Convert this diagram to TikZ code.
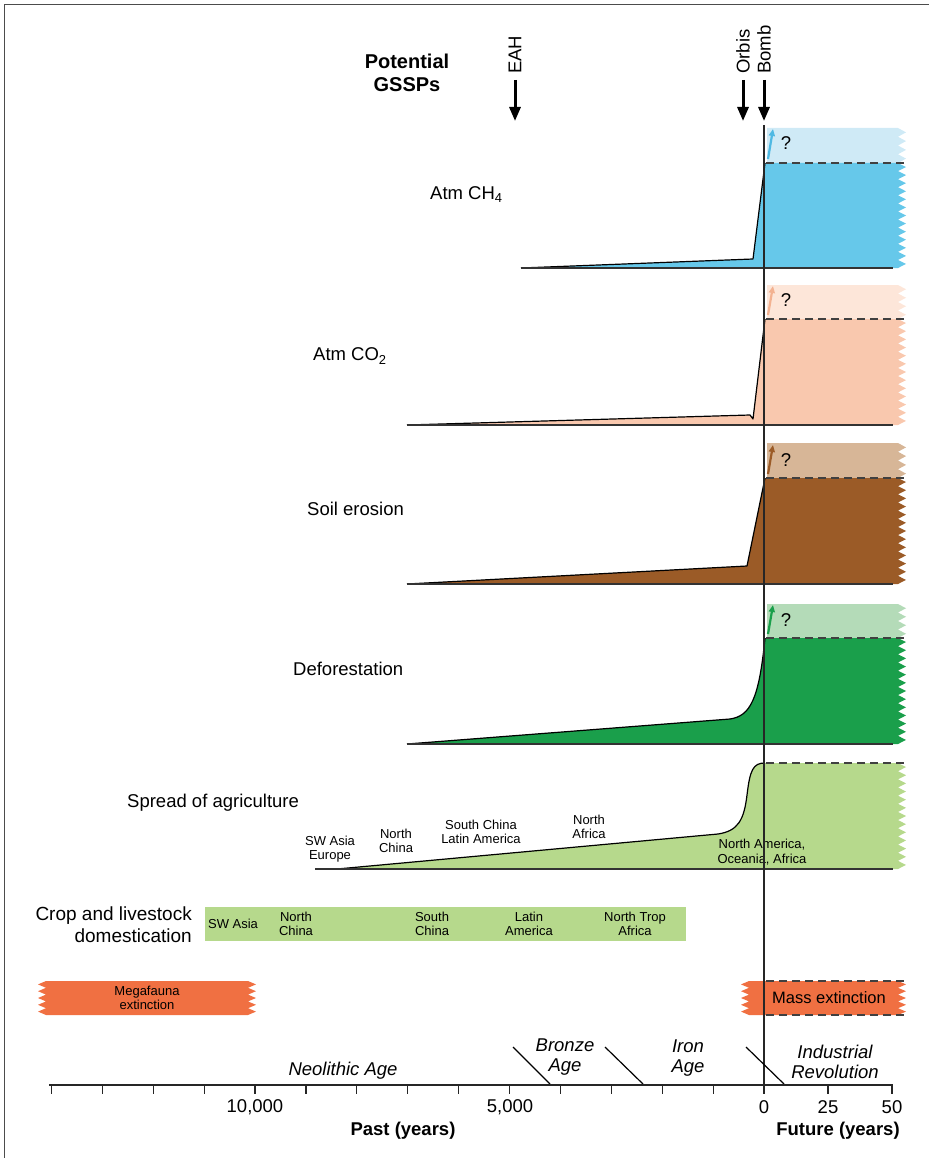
\documentclass[tikz,border=0pt]{standalone}
\usepackage{fontspec}
\setmainfont{Liberation Sans}
\usetikzlibrary{arrows.meta}
\definecolor{chmain}{HTML}{66C8EA}
\definecolor{chpale}{HTML}{CFEAF6}
\definecolor{charr}{HTML}{4FB9E3}
\definecolor{comain}{HTML}{F9C8AE}
\definecolor{copale}{HTML}{FDE6D9}
\definecolor{coarr}{HTML}{F3B291}
\definecolor{somain}{HTML}{9B5B27}
\definecolor{sopale}{HTML}{D7B697}
\definecolor{demain}{HTML}{1A9F4B}
\definecolor{depale}{HTML}{B4DBB8}
\definecolor{agmain}{HTML}{B6D98C}
\definecolor{exmain}{HTML}{F07042}
\tikzset{
  lbl/.style={font=\fontsize{18.5}{21}\selectfont, inner sep=0pt},
  small/.style={font=\fontsize{13}{14.5}\selectfont, inner sep=0pt, align=center},
  agelbl/.style={font=\fontsize{18.5}{20}\selectfont\itshape, inner sep=0pt, align=center},
  dashline/.style={draw=black!75, dash pattern=on 8pt off 5pt, line width=1.3pt},
  outline/.style={draw=black, line width=1.2pt, line join=round},
  gssp/.style={line width=3pt, -{Triangle[length=14pt,width=11pt]}},
  qarrow/.style={line width=2.2pt, -{Triangle[length=7pt,width=6pt]}},
  zzr/.style n args={4}{insert path={foreach \k in {1,...,#4} { -- ({#1+8},{#2+(\k-0.5)*(#3-#2)/#4}) -- (#1,{#2+\k*(#3-#2)/#4}) }}},
  zzl/.style n args={4}{insert path={foreach \k in {1,...,#4} { -- ({#1-8},{#3-(\k-0.5)*(#3-#2)/#4}) -- (#1,{#3-\k*(#3-#2)/#4}) }}},
}
\begin{document}
\begin{tikzpicture}[x=1pt,y=-1pt]
\useasboundingbox (0,0) rectangle (929,1158);
% frame
\draw[black!70, line width=1pt] (4,1158) -- (4,5) -- (929,5);

% ---------- GSSP markers ----------
\node[font=\fontsize{20}{23}\selectfont\bfseries, align=center, inner sep=0pt] (gssp) at (407,73) {Potential\\GSSPs};
\node[lbl, rotate=90, anchor=west] (eah) at (515,74) {EAH};
\node[lbl, rotate=90, anchor=west] (orbis) at (743,74) {Orbis};
\node[lbl, rotate=90, anchor=west] (bomb) at (764,74) {Bomb};
\coordinate (eahA) at (515,80); \coordinate (eahB) at (515,121);
\coordinate (orbA) at (743,80); \coordinate (orbB) at (743,121);
\coordinate (bomA) at (764,80); \coordinate (bomB) at (764,121);
\draw[gssp] (eahA) -- (eahB);
\draw[gssp] (orbA) -- (orbB);
\draw[gssp] (bomA) -- (bomB);

% ---------- CH4 ----------
\fill[chpale] (767,128) -- (898,128) [zzr={898}{128}{163}{4}] -- (767,163) -- cycle;
\fill[chmain] (521,268) -- (753,259) -- (765,163) -- (898,163) [zzr={898}{163}{268}{13}] -- cycle;
\draw[outline] (521,268) -- (753,259) -- (765,163);
\draw[black!80, line width=1.2pt] (521,268) -- (893,268);
\draw[dashline] (766,163) -- (905,163);
\draw[qarrow, charr] (768,159) -- (773,129);
\node[lbl] (q1) at (786,143) {?};
\node[lbl, anchor=west] (ch4) at (430,195) {Atm CH\textsubscript{4}};

% ---------- CO2 ----------
\fill[copale] (767,285) -- (898,285) [zzr={898}{285}{319}{4}] -- (767,319) -- cycle;
\fill[comain] (407,425) -- (750,415) -- (753,419) -- (765,319) -- (898,319) [zzr={898}{319}{425}{13}] -- cycle;
\draw[outline] (407,425) -- (750,415) -- (753,419) -- (765,319);
\draw[black!80, line width=1.2pt] (407,425) -- (893,425);
\draw[dashline] (766,319) -- (905,319);
\draw[qarrow, coarr] (768,315) -- (773,286);
\node[lbl] (q2) at (786,300) {?};
\node[lbl, anchor=west] (co2) at (313,356) {Atm CO\textsubscript{2}};

% ---------- Soil erosion ----------
\fill[sopale] (767,443) -- (898,443) [zzr={898}{443}{478}{4}] -- (767,478) -- cycle;
\fill[somain] (407,584) -- (747,566) -- (765,478) -- (898,478) [zzr={898}{478}{584}{13}] -- cycle;
\draw[outline] (407,584) -- (747,566) -- (765,478);
\draw[black!80, line width=1.2pt] (407,584) -- (893,584);
\draw[dashline] (766,478) -- (905,478);
\draw[qarrow, somain] (768,474) -- (773,445);
\node[lbl] (q3) at (786,460) {?};
\node[lbl, anchor=west] (soil) at (307,509) {Soil erosion};

% ---------- Deforestation ----------
\fill[depale] (767,604) -- (898,604) [zzr={898}{604}{638}{4}] -- (767,638) -- cycle;
\fill[demain] (407,744) -- (730,719) .. controls (750,716) and (759,700) .. (765,638) -- (898,638) [zzr={898}{638}{744}{13}] -- cycle;
\draw[outline] (407,744) -- (730,719) .. controls (750,716) and (759,700) .. (765,638);
\draw[black!80, line width=1.2pt] (407,744) -- (893,744);
\draw[dashline] (766,638) -- (905,638);
\draw[qarrow, demain] (768,634) -- (773,605);
\node[lbl] (q4) at (786,620) {?};
\node[lbl, anchor=west] (defo) at (293,669) {Deforestation};

% ---------- Spread of agriculture ----------
\fill[agmain] (337,869) -- (718,834) .. controls (738,831) and (744,820) .. (747,795) .. controls (750,770) and (753,763) .. (765,763) -- (898,763) [zzr={898}{763}{869}{13}] -- cycle;
\draw[outline] (337,869) -- (718,834) .. controls (738,831) and (744,820) .. (747,795) .. controls (750,770) and (753,763) .. (765,763);
\draw[black!80, line width=1.2pt] (315,869) -- (893,869);
\draw[dashline] (766,763) -- (905,763);
\node[lbl, anchor=west] (agri) at (127,803) {Spread of agriculture};
\node[small] (a1) at (330,849) {SW Asia\\Europe};
\node[small] (a2) at (396,841) {North\\China};
\node[small] (a3) at (481,832) {South China\\Latin America};
\node[small] (a4) at (589,827) {North\\Africa};
\node[small] (a5) at (762,852) {North America,\\Oceania, Africa};

% ---------- Crop and livestock domestication ----------
\fill[agmain] (205,907) rectangle (686,941);
\node[font=\fontsize{19}{22}\selectfont, inner sep=0pt, align=right, anchor=east] (crop) at (192,925) {Crop and livestock\\domestication};
\node[small] (c1) at (233,924) {SW Asia};
\node[small] (c2) at (296,924) {North\\China};
\node[small] (c3) at (432,924) {South\\China};
\node[small] (c4) at (529,924) {Latin\\America};
\node[small] (c5) at (635,924) {North Trop\\Africa};

% ---------- Extinctions ----------
\fill[exmain] (46,981) -- (248,981) [zzr={248}{981}{1015}{5}] -- (46,1015) [zzl={46}{981}{1015}{5}] -- cycle;
\node[small] (mega) at (147,998) {Megafauna\\extinction};
\fill[exmain] (749,981) -- (898,981) [zzr={898}{981}{1015}{5}] -- (749,1015) [zzl={749}{981}{1015}{5}] -- cycle;
\draw[dashline] (766,981) -- (905,981);
\draw[dashline] (766,1015) -- (905,1015);
\node[font=\fontsize{16.5}{18}\selectfont, inner sep=0pt] (mass) at (829,998) {Mass extinction};

% ---------- zero line ----------
\coordinate (zTop) at (764,125);
\coordinate (zBot) at (764,1085);
\draw[black!85, line width=1.2pt] (zTop) -- (zBot);

% ---------- Ages ----------
\node[agelbl] (neo) at (343,1071) {Neolithic Age};
\node[agelbl] (bronze) at (565,1057) {Bronze\\Age};
\node[agelbl] (iron) at (688,1058) {Iron\\Age};
\node[agelbl] (indus) at (835,1062) {Industrial\\Revolution};
\draw[line width=1.2pt] (513,1047) -- (550,1084);
\draw[line width=1.2pt] (605,1047) -- (643,1084);
\draw[line width=1.2pt] (746,1047) -- (784,1084);

% ---------- Axis ----------
\coordinate (axL) at (49,1085);
\coordinate (axR) at (893,1085);
\draw[black!85, line width=1.3pt] (axL) -- (axR);
\foreach \k in {0,...,14} { \draw[black!85, line width=1.2pt] ({764-50.9*\k},1084) -- ({764-50.9*\k},1094); }
\draw[black!85, line width=1.2pt] (828,1084) -- (828,1094);
\draw[black!85, line width=1.2pt] (892,1084) -- (892,1094);
\node[lbl] (t1) at (255,1107) {10,000};
\node[lbl] (t2) at (510,1107) {5,000};
\node[lbl] (t3) at (764,1107) {0};
\node[lbl] (t4) at (828,1107) {25};
\node[lbl] (t5) at (892,1107) {50};
\node[lbl, font=\fontsize{18.5}{21}\selectfont\bfseries] (past) at (403,1131) {Past (years)};
\node[lbl, font=\fontsize{18.5}{21}\selectfont\bfseries] (fut) at (838,1131) {Future (years)};
\end{tikzpicture}
\end{document}
